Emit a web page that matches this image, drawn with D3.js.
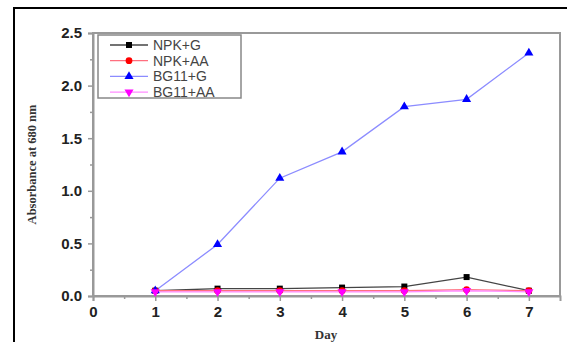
<!DOCTYPE html>
<html>
<head>
<meta charset="utf-8">
<script src="https://cdn.jsdelivr.net/npm/d3@7"></script>
<style>
body { margin: 0; background: #fff; }
</style>
</head>
<body>
<div id="chart"></div>
<script>
const days = [1, 2, 3, 4, 5, 6, 7];
const npkG = [0.05, 0.07, 0.07, 0.08, 0.09, 0.18, 0.05];
const npkAA = [0.05, 0.05, 0.05, 0.05, 0.05, 0.06, 0.05];
const bg11G = [0.05, 0.49, 1.12, 1.37, 1.80, 1.87, 2.31];
const bg11AA = [0.04, 0.04, 0.04, 0.04, 0.04, 0.05, 0.04];
const seriesNames = ["NPK+G", "NPK+AA", "BG11+G", "BG11+AA"];
const xTicks = [0, 1, 2, 3, 4, 5, 6, 7];
const yTicks = [0.0, 0.5, 1.0, 1.5, 2.0, 2.5];

function main(){
    const width = 567, height = 342;
    const svg = d3.select("#chart").append("svg")
        .attr("width", width)
        .attr("height", height);

    // outer black frame
    svg.append("rect")
        .attr("x", 14).attr("y", 8)
        .attr("width", 570).attr("height", 360)
        .attr("fill", "none")
        .attr("stroke", "#000")
        .attr("stroke-width", 2);

    const xScale = d3.scaleLinear().domain([0, 7.5]).range([93, 560]);
    const yScale = d3.scaleLinear().domain([0, 2.5]).range([296, 33]);

    // grey box around plot
    svg.append("rect")
        .attr("x", xScale(0)).attr("y", yScale(2.5))
        .attr("width", xScale(7.5) - xScale(0))
        .attr("height", yScale(0) - yScale(2.5))
        .attr("fill", "none")
        .attr("stroke", "#999")
        .attr("stroke-width", 2);

    // x axis
    const xAxis = d3.axisBottom(xScale)
        .tickValues(xTicks)
        .tickFormat(d3.format("d"))
        .tickSize(5)
        .tickPadding(5);
    svg.append("g")
        .attr("transform", `translate(0, ${yScale(0)})`)
        .call(xAxis);
    const xMinor = d3.axisBottom(xScale)
        .tickValues(d3.range(0.5, 7.5, 1))
        .tickFormat("")
        .tickSize(3);
    svg.append("g")
        .attr("transform", `translate(0, ${yScale(0)})`)
        .call(xMinor)
        .call(g => g.select(".domain").remove());

    // y axis
    const yAxis = d3.axisLeft(yScale)
        .tickValues(yTicks)
        .tickFormat(d3.format(".1f"))
        .tickSize(5)
        .tickPadding(6);
    svg.append("g")
        .attr("transform", `translate(${xScale(0)}, 0)`)
        .call(yAxis);
    const yMinor = d3.axisLeft(yScale)
        .tickValues(d3.range(0.25, 2.5, 0.5))
        .tickFormat("")
        .tickSize(3);
    svg.append("g")
        .attr("transform", `translate(${xScale(0)}, 0)`)
        .call(yMinor)
        .call(g => g.select(".domain").remove());

    svg.selectAll(".domain").attr("stroke", "#999").attr("stroke-width", 2);
    svg.selectAll(".tick line").attr("stroke", "#999").attr("stroke-width", 1.5);
    svg.selectAll(".tick text")
        .attr("font-family", "Liberation Sans, Arial, sans-serif")
        .attr("font-weight", "bold")
        .attr("font-size", 15)
        .attr("fill", "#222");

    // axis labels
    svg.append("text")
        .attr("x", 326).attr("y", 339)
        .attr("text-anchor", "middle")
        .attr("font-family", "Liberation Serif, Times New Roman, serif")
        .attr("font-weight", "bold")
        .attr("font-size", 13)
        .attr("fill", "#333")
        .text("Day");
    svg.append("text")
        .attr("transform", `translate(36, ${yScale(1.25)}) rotate(-90)`)
        .attr("text-anchor", "middle")
        .attr("font-family", "Liberation Serif, Times New Roman, serif")
        .attr("font-weight", "bold")
        .attr("font-size", 12.5)
        .attr("fill", "#333")
        .text("Absorbance at 680 nm");

    const series = [
        { name: seriesNames[0], values: npkG, line: "#444", color: "#000", shape: d3.symbolSquare },
        { name: seriesNames[1], values: npkAA, line: "#ff6f7f", color: "#ff0000", shape: d3.symbolCircle },
        { name: seriesNames[2], values: bg11G, line: "#8c8cff", color: "#0000ff", shape: d3.symbolTriangle },
        { name: seriesNames[3], values: bg11AA, line: "#ff8cff", color: "#ff00ff", shape: "down" }
    ];

    const line = d3.line()
        .x((d, i) => xScale(days[i]))
        .y(d => yScale(d));

    function drawSymbol(g, s, x, y) {
        const down = s.shape === "down";
        g.append("path")
            .attr("d", d3.symbol().type(down ? d3.symbolTriangle : s.shape).size(36)())
            .attr("transform", `translate(${x}, ${y})` + (down ? " rotate(180)" : ""))
            .attr("fill", s.color);
    }

    series.forEach(s => {
        svg.append("path")
            .datum(s.values)
            .attr("fill", "none")
            .attr("stroke", s.line)
            .attr("stroke-width", 1.3)
            .attr("d", line);
    });
    series.forEach(s => {
        const g = svg.append("g");
        s.values.forEach((v, i) => drawSymbol(g, s, xScale(days[i]), yScale(v)));
    });

    // legend
    const legend = svg.append("g");
    legend.append("rect")
        .attr("x", 98).attr("y", 35)
        .attr("width", 143).attr("height", 63)
        .attr("fill", "#fff")
        .attr("stroke", "#888")
        .attr("stroke-width", 1.5);
    series.forEach((s, i) => {
        const y = 45 + i * 15.7;
        legend.append("line")
            .attr("x1", 110).attr("x2", 148)
            .attr("y1", y).attr("y2", y)
            .attr("stroke", s.line)
            .attr("stroke-width", 1.3);
        drawSymbol(legend, s, 129, y);
        legend.append("text")
            .attr("x", 153).attr("y", y + 5)
            .attr("font-family", "Liberation Sans, Arial, sans-serif")
            .attr("font-size", 14)
            .attr("fill", "#444")
            .text(s.name);
    });
}

main();
</script>
</body>
</html>
